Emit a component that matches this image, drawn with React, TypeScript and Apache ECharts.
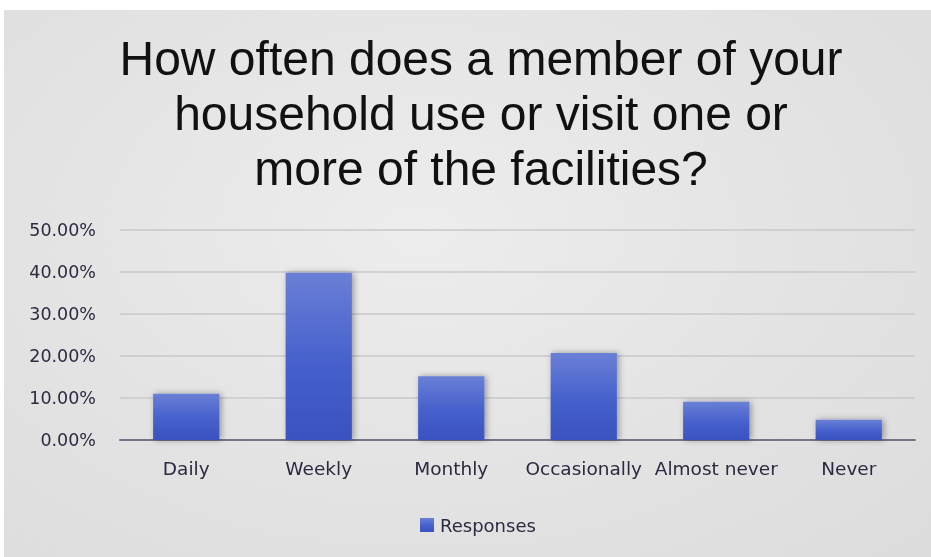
import React, { useEffect, useRef } from "react";
import * as echarts from "echarts";

const categories = ["Daily", "Weekly", "Monthly", "Occasionally", "Almost never", "Never"];
const responses = [0.11, 0.398, 0.152, 0.207, 0.091, 0.048];
const seriesName = "Responses";
const titleText = "How often does a member of your\nhousehold use or visit one or\nmore of the facilities?";

export default function App() {
  const ref = useRef<HTMLDivElement>(null);
  useEffect(() => {
    if (!ref.current) return;
    const chart = echarts.init(ref.current, null, { renderer: "svg" });
    const font = "'DejaVu Sans', 'Open Sans', sans-serif";
    chart.setOption({
      animation: false,
      title: {
        text: titleText,
        left: 472,
        top: 16,
        textAlign: "center",
        textStyle: {
          fontFamily: "'Liberation Sans', Arial, sans-serif",
          fontSize: 48,
          fontWeight: "normal",
          color: "#111111",
          lineHeight: 55,
        },
      },
      legend: {
        top: 501,
        left: 411,
        itemWidth: 14,
        itemHeight: 14,
        itemGap: 10,
        icon: "rect",
        data: [seriesName],
        textStyle: { fontFamily: font, fontSize: 18, color: "#2a2a40", padding: [0, 0, 0, 1] },
      },
      grid: { left: 116, right: 16, top: 220, bottom: 117 },
      xAxis: {
        type: "category",
        data: categories,
        axisTick: { show: false },
        axisLine: { lineStyle: { color: "#74748a", width: 2 } },
        axisLabel: {
          fontFamily: font,
          fontSize: 18.5,
          color: "#2a2a40",
          margin: 19,
          interval: 0,
          hideOverlap: false,
        },
      },
      yAxis: {
        type: "value",
        min: 0,
        max: 0.5,
        interval: 0.1,
        axisLabel: {
          fontFamily: font,
          fontSize: 17.5,
          color: "#2a2a40",
          margin: 24,
          formatter: (v: number) => (v * 100).toFixed(2) + "%",
        },
        splitLine: { lineStyle: { color: "#c9c9ce", width: 1.5 } },
      },
      series: [
        {
          name: seriesName,
          type: "bar",
          data: responses,
          barWidth: "50%",
          itemStyle: {
            color: new echarts.graphic.LinearGradient(0, 0, 0, 1, [
              { offset: 0, color: "#6a7fd6" },
              { offset: 0.55, color: "#4560cc" },
              { offset: 1, color: "#3a52bf" },
            ]),
            shadowBlur: 6,
            shadowColor: "rgba(0,0,0,0.35)",
            shadowOffsetX: 2,
            shadowOffsetY: 0,
          },
        },
      ],
    });
    return () => chart.dispose();
  }, []);
  return (
    <div
      ref={ref}
      style={{
        position: "fixed",
        left: 4,
        top: 10,
        width: 927,
        height: 547,
        background: "radial-gradient(ellipse at 45% 40%, #ededed 0%, #e4e4e4 50%, #dcdcdc 100%)",
      }}
    />
  );
}
